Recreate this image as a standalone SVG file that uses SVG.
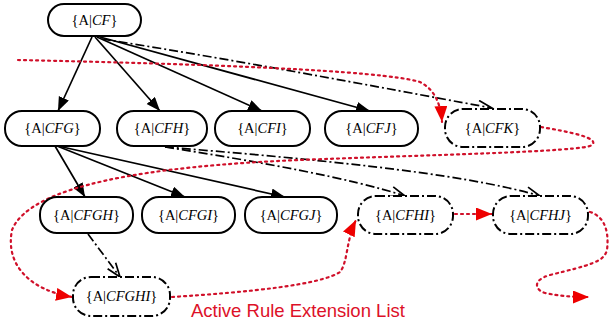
<svg xmlns="http://www.w3.org/2000/svg" width="611" height="326" viewBox="0 0 611 326">
<defs>
<style>
.n{fill:#fff;stroke:#000;stroke-width:2}
.d{fill:#fff;stroke:#000;stroke-width:2;stroke-dasharray:9,3,2,3}
.t{font-family:"Liberation Serif","Times New Roman",serif;font-size:14.5px;text-anchor:middle;fill:#000}
.i{font-style:italic}
.s{fill:none;stroke:#000;stroke-width:1.7}
.dd{fill:none;stroke:#000;stroke-width:1.7;stroke-dasharray:9,3,2,3}
.r{fill:none;stroke:#d0102a;stroke-width:2.2;stroke-dasharray:2,4;stroke-linecap:round}
</style>
<marker id="fa" markerUnits="userSpaceOnUse" markerWidth="16" markerHeight="12" refX="14" refY="5.5" orient="auto"><path d="M0,0L14,5.5L0,11z" fill="#000"/></marker>
<marker id="oa" markerUnits="userSpaceOnUse" markerWidth="18" markerHeight="12" refX="15" refY="6" orient="auto"><path d="M1,1L15,6L1,11" fill="none" stroke="#000" stroke-width="1.7"/></marker>
<marker id="ra" markerUnits="userSpaceOnUse" markerWidth="18" markerHeight="14" refX="16" refY="6.5" orient="auto"><path d="M0,0L16,6.5L0,13z" fill="#ee0000"/></marker>
</defs>
<g id="connectors">
<path class="s" d="M92,37L58,111" marker-end="url(#fa)"/>
<path class="s" d="M95,37L160,111" marker-end="url(#fa)"/>
<path class="s" d="M97,37L262,111" marker-end="url(#fa)"/>
<path class="s" d="M100,37L370,111" marker-end="url(#fa)"/>
<path class="dd" d="M102,39C250,62 420,95 492,108" marker-end="url(#oa)"/>
<path class="s" d="M55,146L85,197" marker-end="url(#fa)"/>
<path class="s" d="M57,146L185,197" marker-end="url(#fa)"/>
<path class="s" d="M58,146L285,197" marker-end="url(#fa)"/>
<path class="dd" d="M165,147C260,162 350,178 405,196" marker-end="url(#oa)"/>
<path class="dd" d="M165,147C300,158 460,172 540,196" marker-end="url(#oa)"/>
<path class="dd" d="M88,234L120,277" marker-end="url(#oa)"/>
<path class="r" d="M18,60C200,64 380,70 420,82Q440,92 442,122" marker-end="url(#ra)"/>
<path class="r" d="M541,127C570,132 600,138 592,145C585,152 420,155 300,160C150,166 30,185 12,230C5,265 30,290 72,297" marker-end="url(#ra)"/>
<path class="r" d="M172,297C250,292 320,285 340,272C348,262 346,240 356,220" marker-end="url(#ra)"/>
<path class="r" d="M455,214L492,214" marker-end="url(#ra)"/>
<path class="r" d="M590,212C600,215 610,225 607,250C604,262 590,265 550,275C532,280 535,290 545,293C560,296 570,297 589,297" marker-end="url(#ra)"/>
</g>
<g id="CF"><rect class="n" x="48" y="4" width="93" height="32" rx="16"/><text class="t" x="94.5" y="25">{A|<tspan class="i">CF</tspan>}</text></g>
<g id="CFG"><rect class="n" x="5" y="111" width="95" height="35" rx="17"/><text class="t" x="52.5" y="133">{A|<tspan class="i">CFG</tspan>}</text></g>
<g id="CFH"><rect class="n" x="117" y="111" width="90" height="35" rx="17"/><text class="t" x="162" y="133">{A|<tspan class="i">CFH</tspan>}</text></g>
<g id="CFI"><rect class="n" x="215" y="111" width="95" height="35" rx="17"/><text class="t" x="262.5" y="133">{A|<tspan class="i">CFI</tspan>}</text></g>
<g id="CFJ"><rect class="n" x="325" y="111" width="93" height="35" rx="17"/><text class="t" x="371.5" y="133">{A|<tspan class="i">CFJ</tspan>}</text></g>
<g id="CFK"><rect class="d" x="445" y="109" width="95" height="38" rx="18"/><text class="t" x="492.5" y="133">{A|<tspan class="i">CFK</tspan>}</text></g>
<g id="CFGH"><rect class="n" x="40" y="197" width="93" height="36" rx="17"/><text class="t" x="86.5" y="220">{A|<tspan class="i">CFGH</tspan>}</text></g>
<g id="CFGI"><rect class="n" x="142" y="197" width="93" height="36" rx="17"/><text class="t" x="188.5" y="220">{A|<tspan class="i">CFGI</tspan>}</text></g>
<g id="CFGJ"><rect class="n" x="245" y="197" width="92" height="36" rx="17"/><text class="t" x="291" y="220">{A|<tspan class="i">CFGJ</tspan>}</text></g>
<g id="CFHI"><rect class="d" x="358" y="196" width="95" height="38" rx="18"/><text class="t" x="405.5" y="220">{A|<tspan class="i">CFHI</tspan>}</text></g>
<g id="CFHJ"><rect class="d" x="493" y="196" width="95" height="38" rx="18"/><text class="t" x="540.5" y="220">{A|<tspan class="i">CFHJ</tspan>}</text></g>
<g id="CFGHI"><rect class="d" x="73" y="277" width="97" height="39" rx="18"/><text class="t" x="121.5" y="301">{A|<tspan class="i">CFGHI</tspan>}</text></g>
<text x="191" y="317" font-family="Liberation Sans, Arial, sans-serif" font-size="18.5" fill="#dd1128">Active Rule Extension List</text>
</svg>
